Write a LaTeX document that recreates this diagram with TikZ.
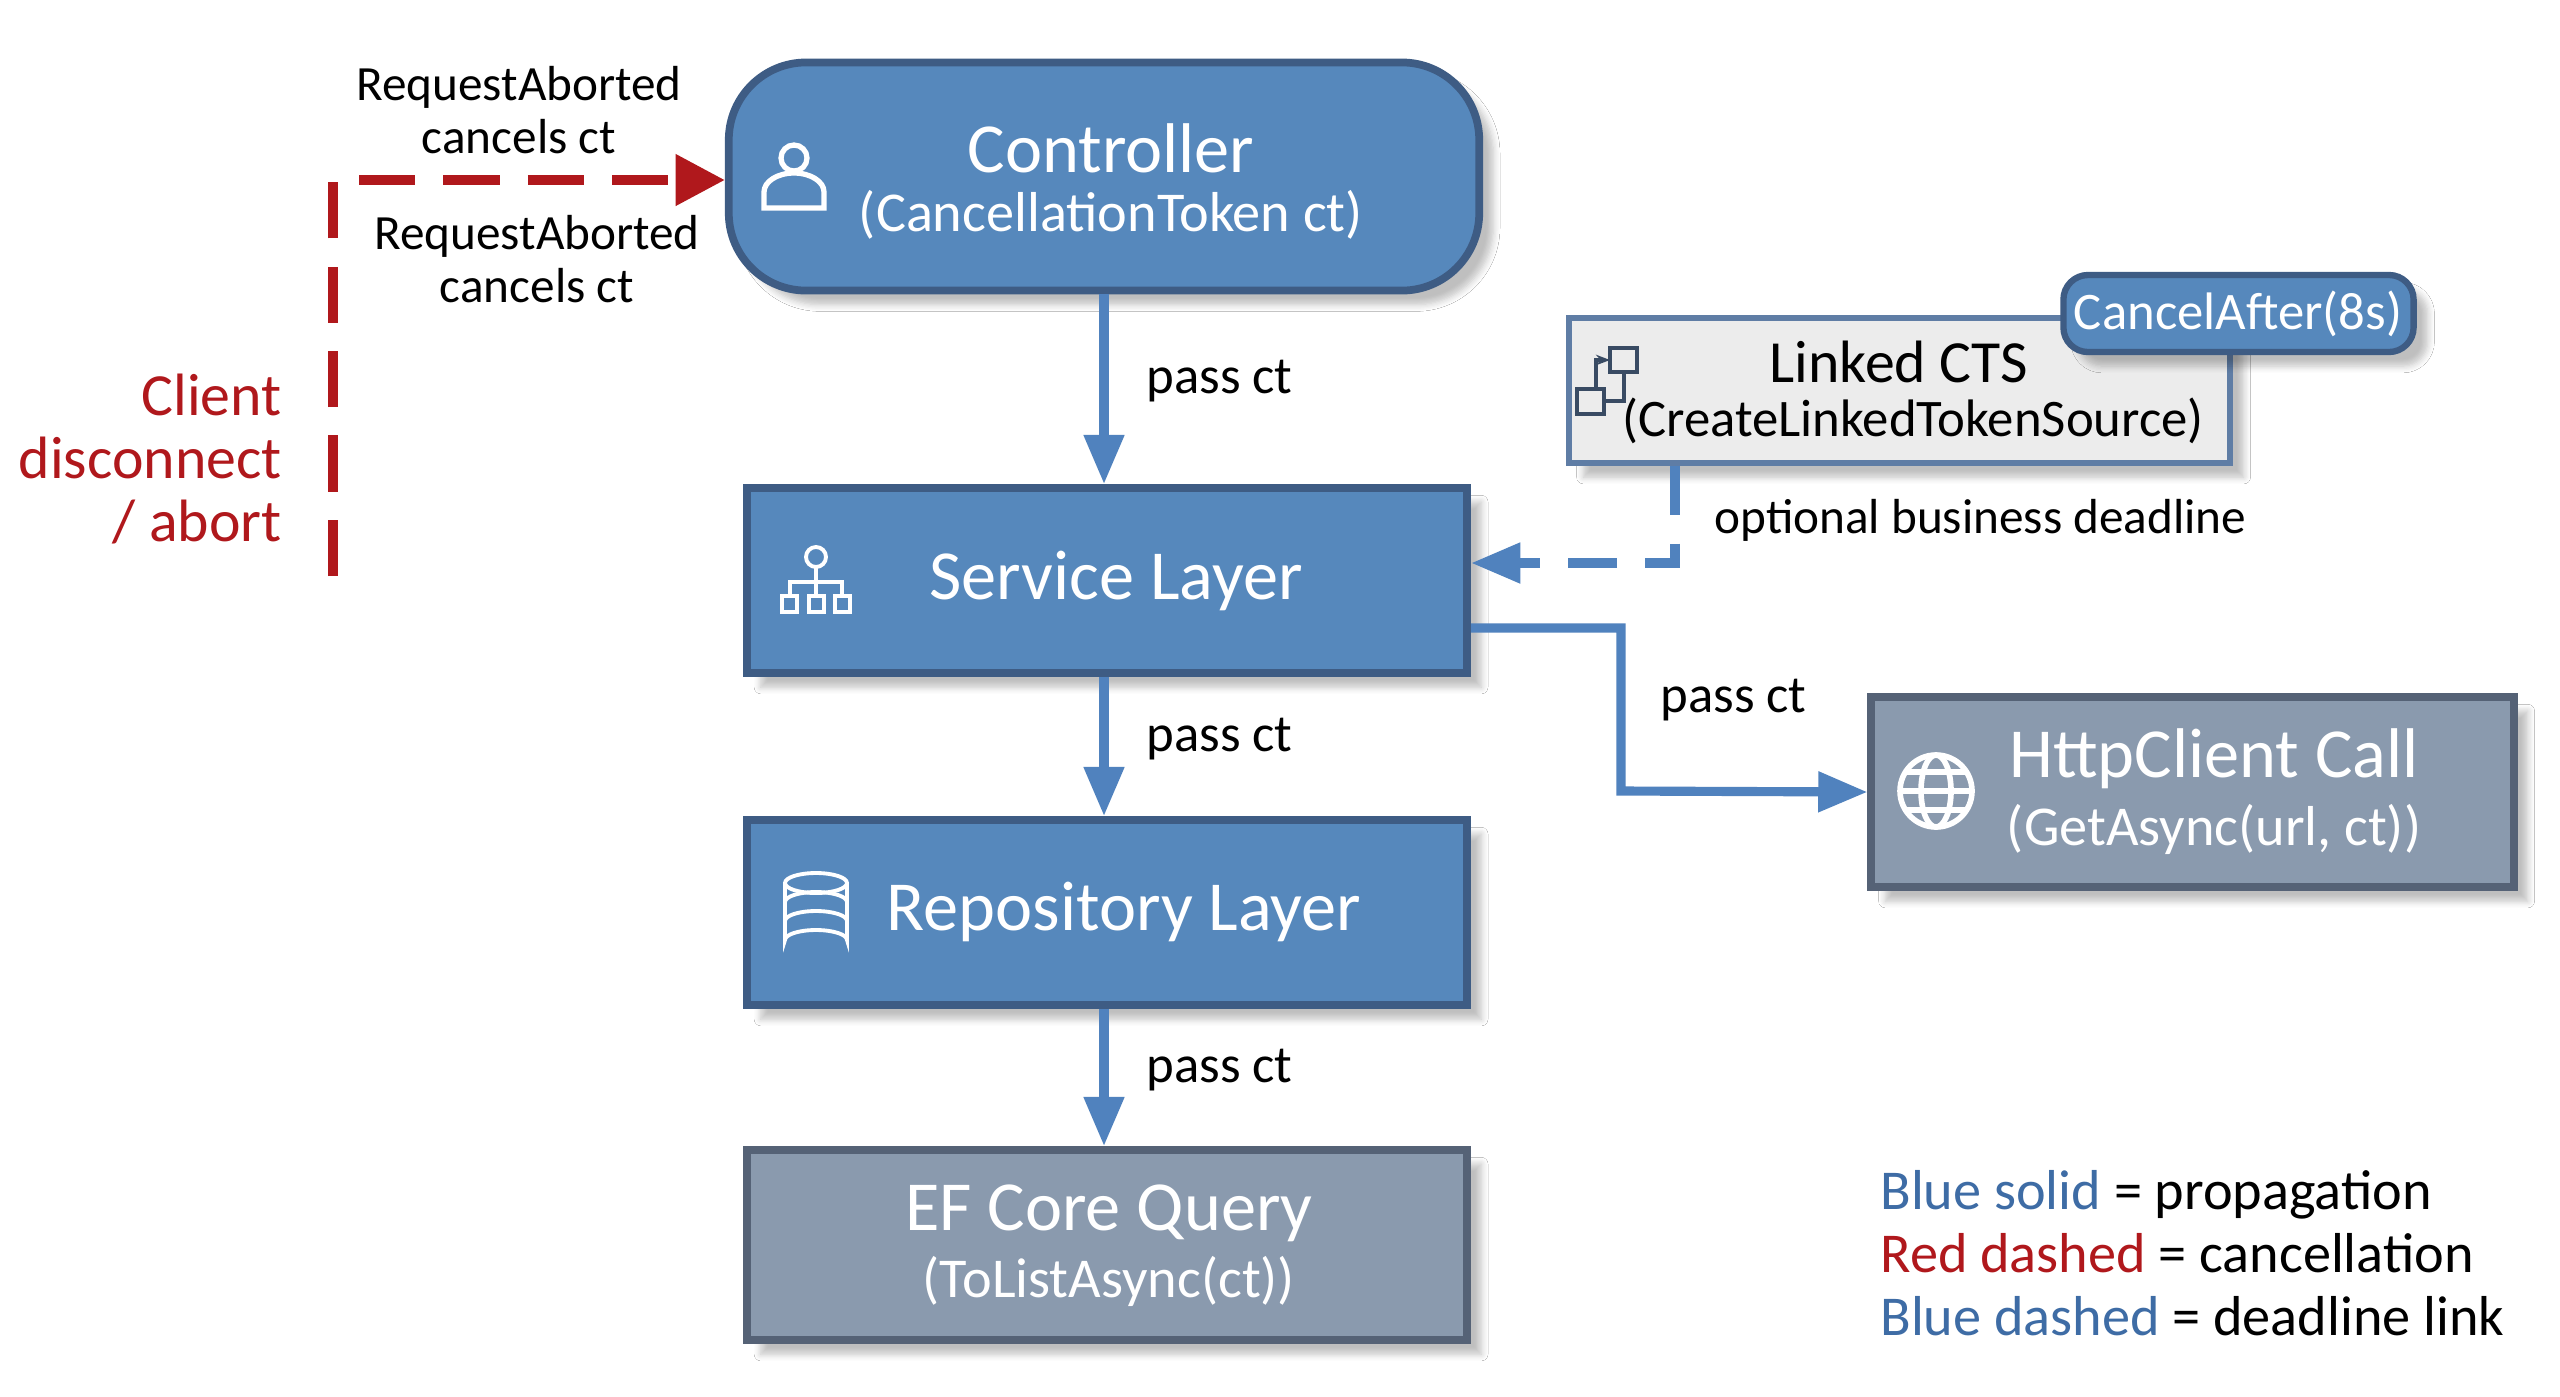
\documentclass[tikz,border=0pt]{standalone}
\usepackage{fontspec}
\setmainfont{Carlito}
\usetikzlibrary{shadows.blur,arrows.meta}
\definecolor{bfill}{RGB}{86,136,188}
\definecolor{bdraw}{RGB}{62,92,132}
\definecolor{gfill}{RGB}{138,154,174}
\definecolor{gdraw}{RGB}{85,98,118}
\definecolor{lfill}{RGB}{236,236,236}
\definecolor{ldraw}{RGB}{95,125,165}
\definecolor{cred}{RGB}{176,24,28}
\definecolor{lblue}{RGB}{62,108,165}
\definecolor{aline}{RGB}{80,130,190}
\begin{document}
\begin{tikzpicture}[x=0.01cm,y=-0.01cm,
  box/.style={draw, line width=2.2pt, blur shadow={shadow xshift=4pt,shadow yshift=-4pt,shadow blur steps=6,shadow opacity=25}},
  bluebox/.style={box, fill=bfill, draw=bdraw},
  graybox/.style={box, fill=gfill, draw=gdraw},
  title/.style={text=white, font=\fontsize{20}{22}\selectfont},
  sub/.style={text=white, font=\fontsize{16}{18}\selectfont},
  lab/.style={font=\fontsize{15}{17}\selectfont, align=left},
  flow/.style={draw=aline, line width=2.6pt, -{Triangle[length=14pt,width=11pt]}},
  icon/.style={draw=white, line width=1.1pt}]
\useasboundingbox (0,0) rectangle (2560,1396);
\fill[white] (0,0) rectangle (2560,1396);
% boxes
\node[bluebox, rounded corners=22pt, minimum width=7.5cm, minimum height=2.28cm] (ctrl) at (1104,176.5) {};
\node[bluebox, minimum width=7.2cm, minimum height=1.85cm] (svc) at (1107,580.5) {};
\node[bluebox, minimum width=7.2cm, minimum height=1.85cm] (repo) at (1107,912.5) {};
\node[graybox, minimum width=7.2cm, minimum height=1.9cm] (ef) at (1107,1245) {};
\node[graybox, minimum width=6.42cm, minimum height=1.9cm] (http) at (2192.5,792) {};
\node[box, fill=lfill, draw=ldraw, line width=1.8pt, minimum width=6.6cm, minimum height=1.45cm] (lcts) at (1899.5,390.5) {};
\node[bluebox, rounded corners=7pt, minimum width=3.5cm, minimum height=0.77cm, line width=1.8pt] (cancel) at (2238.5,313.5) {};
% texts
\node[title] (t1) at (1111,148) {Controller};
\node[sub] (t2) at (1111,215) {(CancellationToken ct)};
\node[title] (t3) at (1116,581) {Service Layer};
\node[title] (t4) at (1124,912) {Repository Layer};
\node[title] (t5) at (1109,1213) {EF Core Query};
\node[sub] (t6) at (1109,1281) {(ToListAsync(ct))};
\node[title] (t7) at (2214,759) {HttpClient Call};
\node[sub] (t8) at (2214,829) {(GetAsync(url, ct))};
\node[font=\fontsize{17}{19}\selectfont] (t9) at (1899,362) {Linked CTS};
\node[font=\fontsize{15}{17}\selectfont] (t10) at (1913,421) {(CreateLinkedTokenSource)};
\node[sub, font=\fontsize{15}{17}\selectfont] (t11) at (2238,314) {CancelAfter(8s)};
% icons
\draw[icon, line width=1.5pt] (794,158) circle (13);
\draw[icon, line width=1.5pt] (764,208) -- (764,192) arc (180:360:30 and 19) -- (824,208) -- cycle;
\draw[icon] (816,557) circle (10);
\draw[icon] (816,567) -- (816,582) (790,596) -- (790,582) -- (842,582) -- (842,596) (816,582) -- (816,596);
\draw[icon] (782,596) rectangle (797,612) (809,596) rectangle (824,612) (835,596) rectangle (850,612);
\draw[icon] (816,883) ellipse (31 and 10);
\draw[icon] (785,883) -- (785,940) arc (180:360:31 and 10) -- (847,883);
\draw[icon] (785,902) arc (180:360:31 and 10) (785,921) arc (180:360:31 and 10);
\draw[icon,line width=1.6pt] (1936,791) circle (36);
\draw[icon,line width=1.6pt] (1936,791) ellipse (15 and 36);
\draw[icon,line width=1.6pt] (1900,791) -- (1972,791) (1905,772) -- (1967,772) (1905,810) -- (1967,810);
\draw[ldraw!60!black, line width=1.2pt] (1610,348) rectangle (1637,372) (1577,389) rectangle (1604,414) (1604,401) -- (1624,401) -- (1624,372);
\draw[ldraw!60!black, line width=1.2pt, -{Stealth[length=4pt]}] (1596,389) -- (1596,360) -- (1610,360);
% connectors
\draw[flow] (ctrl.south) -- (ctrl.south |- svc.north);
\draw[flow] (svc.south -| ctrl.south) -- (ctrl.south |- repo.north);
\draw[flow] (repo.south -| ctrl.south) -- (ctrl.south |- ef.north);
\coordinate (s1) at (svc.east |- 0,628);
\draw[flow] (s1) -- (1621,628) -- (1621,791) -- (http.west);
\coordinate (l1) at (lcts.south -| 1675,0);
\draw[flow, dash pattern=on 14pt off 8pt] (l1) -- (1675,563) -- (svc.east |- 0,563);
\coordinate (r0) at (333,576);
\draw[draw=cred, line width=2.8pt, dash pattern=on 16pt off 8pt, -{Triangle[length=14pt,width=14pt]}] (r0) -- (333,180) -- (ctrl.west |- 0,180);
% labels
\node[lab] (p1) at (1134,381) [anchor=west] {pass ct};
\node[lab] (p2) at (1134,739) [anchor=west] {pass ct};
\node[lab] (p3) at (1134,1070) [anchor=west] {pass ct};
\node[lab] (p4) at (1648,700) [anchor=west] {pass ct};
\node[lab, font=\fontsize{14}{16}\selectfont] (od) at (1702,520) [anchor=west] {optional business deadline};
\node[font=\fontsize{14}{15}\selectfont, align=center] (ra1) at (519,110) {RequestAborted\\cancels ct};
\node[font=\fontsize{14}{15}\selectfont, align=center] (ra2) at (537,259) {RequestAborted\\cancels ct};
\node[font=\fontsize{17}{18}\selectfont, align=right, text=cred, anchor=east] (cl) at (294,459) {Client\\disconnect\\/ abort};
\node[font=\fontsize{16}{18}\selectfont, align=left, anchor=west] (leg) at (1868,1253) {\textcolor{lblue}{Blue solid} = propagation\\\textcolor{cred}{Red dashed} = cancellation\\\textcolor{lblue}{Blue dashed} = deadline link};
\end{tikzpicture}
\end{document}
